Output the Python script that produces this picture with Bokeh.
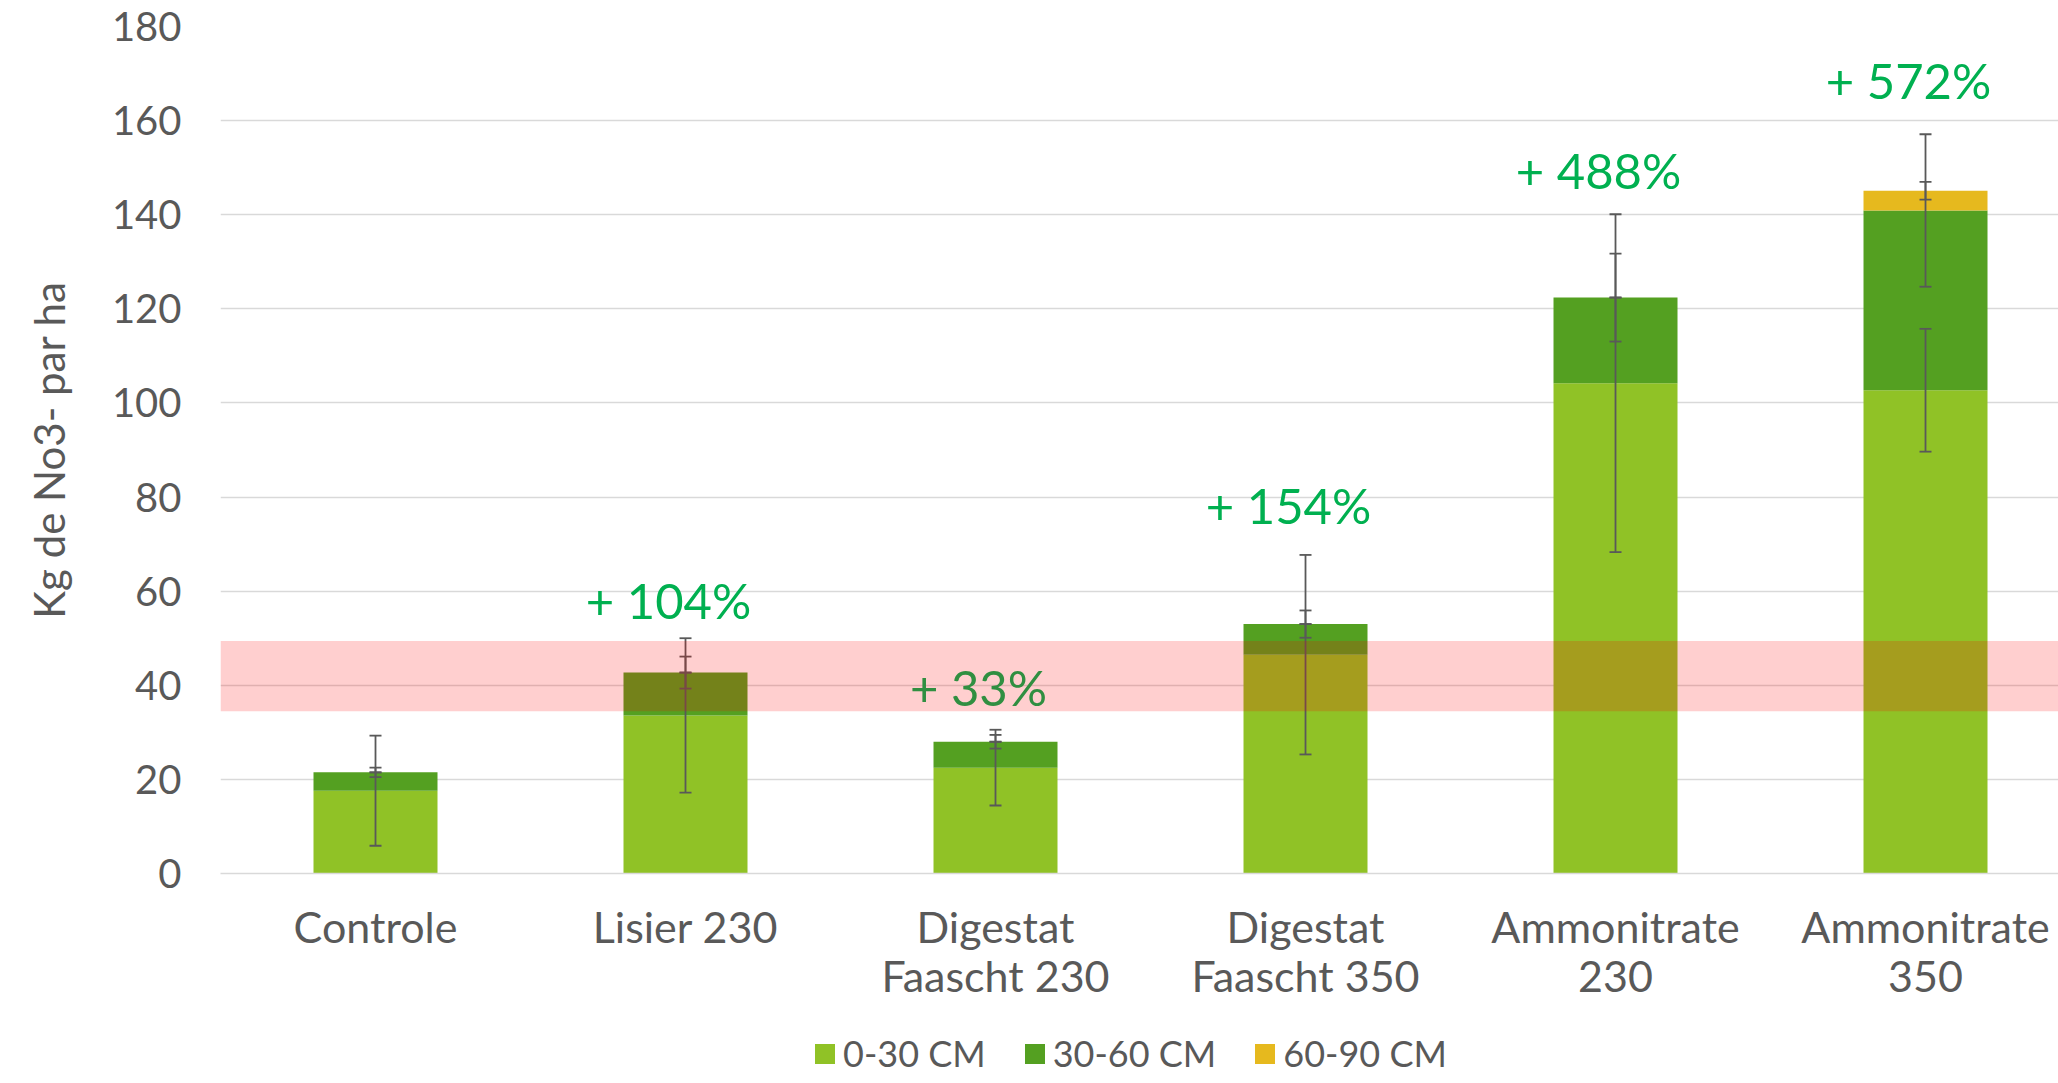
from bokeh.plotting import figure
from bokeh.layouts import column
from bokeh.models import (ColumnDataSource, Range1d, FixedTicker, Legend, LegendItem,
                          Whisker, TeeHead, BoxAnnotation)
from bokeh.core.properties import value
from bokeh.embed import file_html
from bokeh.resources import INLINE

# ---------------- data ----------------
categories = ["Controle", "Lisier 230", "Digestat\nFaascht 230", "Digestat\nFaascht 350",
              "Ammonitrate\n230", "Ammonitrate\n350"]
layers = ["0-30 CM", "30-60 CM", "60-90 CM"]
v_0_30 = [17.6, 33.6, 22.5, 46.5, 104.2, 102.7]
v_30_60 = [3.9, 9.1, 5.5, 6.5, 18.2, 38.2]
v_60_90 = [0.0, 0.0, 0.0, 0.0, 0.0, 4.2]
err_0_30 = [11.7, 16.4, 8.05, 21.2, 35.9, 13.05]
err_30_60 = [1.0, 3.4, 1.45, 2.9, 9.35, 16.2]
err_60_90 = [0.0, 0.0, 0.0, 0.0, 0.0, 1.9]
pct_labels = ["+ 104%", "+ 33%", "+ 154%", "+ 488%", "+ 572%"]
pct_label_cat = [1, 2, 3, 4, 5]
pct_label_y = [53.8, 35.3, 74.0, 145.3, 164.4]
y_ticks = [0, 20, 40, 60, 80, 100, 120, 140, 160, 180]
band_low, band_high = 34.5, 49.4

colors = ["#90C226", "#54A021", "#E6B91E"]
TEXT = "#595959"
FONT = "Lato"

# ---------------- main figure ----------------
p = figure(width=2058, height=1030, output_backend="svg", toolbar_location=None,
           x_range=Range1d(-0.5, 5.429), y_range=Range1d(0, 180),
           min_border_left=220, min_border_right=0, min_border_top=26, min_border_bottom=157)
p.outline_line_color = None
p.background_fill_color = "white"
p.border_fill_color = "white"

xs = list(range(len(categories)))
src = ColumnDataSource(dict(x=xs, a=v_0_30, b=v_30_60, c=v_60_90))
rs = p.vbar_stack(["a", "b", "c"], x="x", width=0.4, source=src, color=colors, line_color=None)

# error bars per segment (centred on the cumulative top of each segment)
tops = []
run = [0.0] * len(xs)
for vals, errs in ((v_0_30, err_0_30), (v_30_60, err_30_60), (v_60_90, err_60_90)):
    run = [r + v for r, v in zip(run, vals)]
    for i in xs:
        tops.append((i, run[i], errs[i]))
esrc = ColumnDataSource(dict(x=[t[0] for t in tops],
                             lower=[t[1] - t[2] for t in tops],
                             upper=[t[1] + t[2] for t in tops]))
w = Whisker(source=esrc, base="x", lower="lower", upper="upper", dimension="height",
            line_color=TEXT, line_width=1.8, level="glyph",
            upper_head=TeeHead(size=12, line_color=TEXT, line_width=1.8),
            lower_head=TeeHead(size=12, line_color=TEXT, line_width=1.8))
p.add_layout(w)

# percentage labels
lsrc = ColumnDataSource(dict(x=pct_label_cat, y=pct_label_y, t=pct_labels))
p.text(x="x", y="y", text="t", source=lsrc, text_font=value(FONT), text_font_size=value("49px"),
       text_color="#00B050", text_align="center", text_baseline="alphabetic",
       x_offset=-17, y_offset=-20)

# red threshold band
band = BoxAnnotation(bottom=band_low, top=band_high,
                     fill_color="#FF0000", fill_alpha=0.19, line_color=None)
p.add_layout(band)

# axes
p.yaxis.ticker = FixedTicker(ticks=y_ticks)
p.xaxis.ticker = FixedTicker(ticks=xs)
p.xaxis.major_label_overrides = {i: c for i, c in enumerate(categories)}
for ax in (p.xaxis[0], p.yaxis[0]):
    ax.major_tick_line_color = None
    ax.minor_tick_line_color = None
    ax.major_tick_out = 0
    ax.major_tick_in = 0
    ax.minor_tick_out = 0
    ax.major_label_text_font = FONT
    ax.major_label_text_color = TEXT
p.yaxis.major_label_text_font_size = "40px"
p.xaxis.major_label_text_font_size = "43px"
p.xaxis.major_label_text_line_height = 0.98
p.yaxis.axis_line_color = None
p.yaxis.major_label_standoff = 39
p.yaxis.axis_label = "Kg de No3- par ha"
p.yaxis.axis_label_text_font = FONT
p.yaxis.axis_label_text_font_size = "42px"
p.yaxis.axis_label_text_font_style = "normal"
p.yaxis.axis_label_text_color = TEXT
p.yaxis.axis_label_standoff = 35
p.xaxis.axis_line_color = "#D9D9D9"
p.xaxis.axis_line_width = 1.5
p.xaxis.major_label_standoff = 27

p.xgrid.grid_line_color = None
p.ygrid.grid_line_color = "#D9D9D9"
p.ygrid.grid_line_width = 1.5

# ---------------- legend strip ----------------
p2 = figure(width=2058, height=53, output_backend="svg", toolbar_location=None,
            x_range=Range1d(0, 1), y_range=Range1d(0, 1), x_axis_type=None, y_axis_type=None,
            min_border_left=0, min_border_right=0, min_border_top=0, min_border_bottom=0)
p2.outline_line_color = None
p2.xgrid.grid_line_color = None
p2.ygrid.grid_line_color = None
p2.background_fill_color = "white"
p2.border_fill_color = "white"
lrs = [p2.vbar(x=[10], top=[1], width=0.4, color=c, line_color=None) for c in colors]
legend = Legend(items=[LegendItem(label=l, renderers=[r]) for l, r in zip(layers, lrs)],
                location=(592, 8), orientation="horizontal",
                glyph_width=25, glyph_height=25, label_height=25, label_standoff=6, spacing=36,
                padding=0, margin=0, border_line_color=None, background_fill_alpha=0,
                label_text_font=FONT, label_text_font_size="36px", label_text_color=TEXT)
p2.add_layout(legend, "center")

layout = column(p, p2, spacing=0)
open("out.html", "w").write(file_html(layout, INLINE))
